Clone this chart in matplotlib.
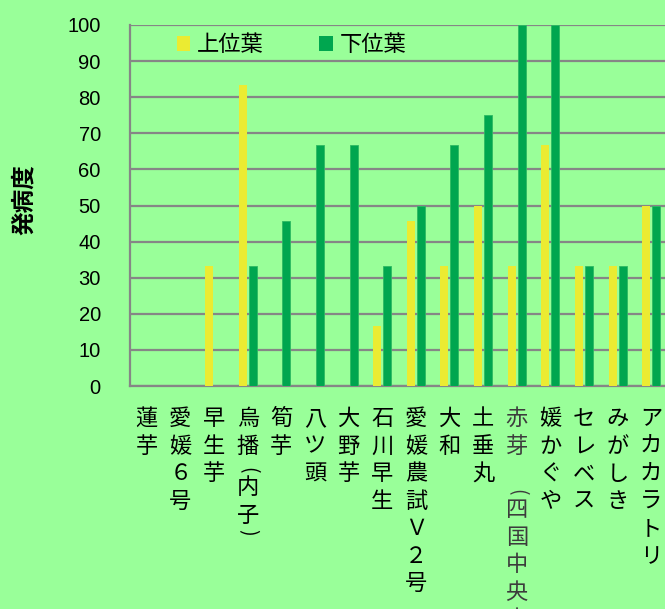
import matplotlib
matplotlib.use("Agg")
import matplotlib.pyplot as plt
import matplotlib.transforms as mtransforms
from matplotlib.patches import Patch
import numpy as np

# ---- data ----
categories = ["蓮芋", "愛媛６号", "早生芋", "烏播(内子)", "筍芋", "八ツ頭", "大野芋", "石川早生",
              "愛媛農試Ｖ２号", "大和", "土垂丸", "赤芽（四国中央市）", "媛かぐや", "セレベス",
              "みがしき", "アカカラトリ"]
upper_leaf = [0, 0, 33.3, 83.3, 0, 0, 0, 16.7, 45.8, 33.3, 50, 33.3, 66.7, 33.3, 33.3, 50]
lower_leaf = [0, 0, 0, 33.3, 45.8, 66.7, 66.7, 33.3, 50, 66.7, 75, 100, 100, 33.3, 33.3, 50]
series_names = ["上位葉", "下位葉"]
y_ticks = list(range(0, 101, 10))
y_label = "発病度"

# ---- style ----
BG = "#99FF99"
YELLOW = "#EBEB32"
GREEN = "#00A64F"
GRID = "#868686"
CJK = ["Noto Sans CJK JP", "DejaVu Sans"]

W, H = 665, 609
fig = plt.figure(figsize=(W / 100, H / 100), dpi=100, facecolor=BG)

# plot area in pixels (left, top, right, bottom); the right edge runs past the canvas
L, T, R, B = 130, 25, 668, 386
ax = fig.add_axes([L / W, 1 - B / H, (R - L) / W, (B - T) / H])
ax.set_facecolor(BG)

x = np.arange(len(categories))
bw = 0.24
off = 0.149
ax.bar(x - off, upper_leaf, width=bw, color=YELLOW, zorder=3, label=series_names[0])
ax.bar(x + off, lower_leaf, width=bw, color=GREEN, edgecolor="#2DBA62", linewidth=0.6,
       zorder=3, label=series_names[1])

ax.set_xlim(-0.5, len(categories) - 0.5)
ax.set_ylim(0, 100)
ax.set_yticks(y_ticks)
ax.set_yticklabels([str(v) for v in y_ticks], fontsize=14.5, family=["Liberation Sans"])
ax.tick_params(axis="y", length=0, pad=21)
ax.set_xticks([])
ax.yaxis.grid(True, color=GRID, linewidth=1.6, zorder=0)
ax.set_axisbelow(True)
for s in ("top", "right"):
    ax.spines[s].set_visible(False)
for s in ("left", "bottom"):
    ax.spines[s].set_color(GRID)
    ax.spines[s].set_linewidth(1.6)

# vertical category labels, one glyph per cell; brackets are turned sideways
trans = mtransforms.blended_transform_factory(ax.transData, fig.transFigure)
PITCH = 27.5
for i, label in enumerate(categories):
    special = label.startswith("赤芽")
    color = "#3C3C3C" if special else "black"
    y = 405.0  # top of first cell, pixels from the top edge
    for ch in label:
        rot = 0
        glyph = ch
        size = 16
        if ch in "()":
            adv = 14.0
        elif ch in "（）":
            adv = 36.0
        else:
            adv = PITCH
        if ch in "(（":
            cy = y + adv - 4
            glyph, rot, size = "(", -90, 14
        elif ch in ")）":
            cy = y + 3
            glyph, rot, size = ")", -90, 14
        else:
            cy = y + adv / 2
        ax.text(i, 1 - cy / H, glyph, transform=trans, ha="center", va="center",
                rotation=rot, fontsize=size, family=CJK, color=color, clip_on=False)
        y += adv

# y-axis title
fig.text(24 / W, 1 - 200 / H, y_label, rotation=90, ha="center", va="center",
         fontsize=17, fontweight="bold", family=CJK)

handles = [Patch(facecolor=YELLOW), Patch(facecolor=GREEN)]
ax.legend(handles, series_names, ncol=2, loc="upper left",
          bbox_to_anchor=(177 / W, 1 - 33 / H), bbox_transform=fig.transFigure,
          frameon=False, prop={"family": CJK, "size": 16}, handlelength=0.6,
          handleheight=0.65, handletextpad=0.3, columnspacing=2.5, borderpad=0,
          borderaxespad=0)

fig.savefig("out.png", dpi=100, facecolor=BG)
